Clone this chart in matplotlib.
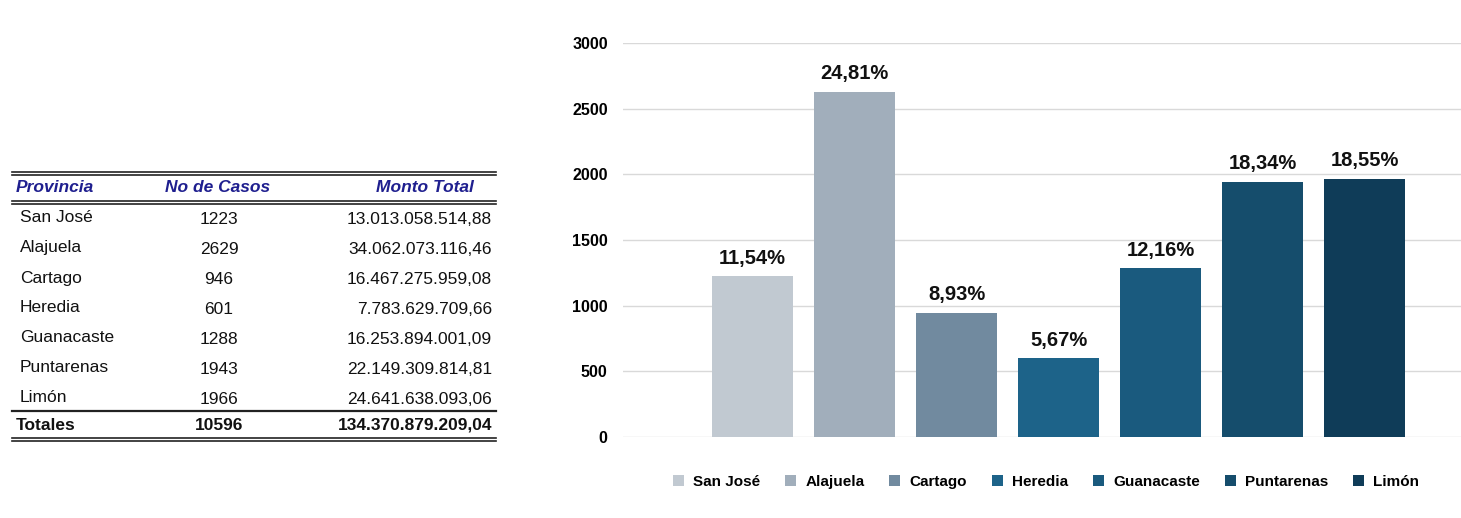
import matplotlib
matplotlib.use("Agg")
import matplotlib.pyplot as plt
from matplotlib.lines import Line2D
from matplotlib.patches import Patch

provincias = ["San José", "Alajuela", "Cartago", "Heredia", "Guanacaste", "Puntarenas", "Limón"]
casos = [1223, 2629, 946, 601, 1288, 1943, 1966]
montos = ["13.013.058.514,88", "34.062.073.116,46", "16.467.275.959,08", "7.783.629.709,66",
          "16.253.894.001,09", "22.149.309.814,81", "24.641.638.093,06"]
porcentajes = ["11,54%", "24,81%", "8,93%", "5,67%", "12,16%", "18,34%", "18,55%"]
total_casos = "10596"
total_monto = "134.370.879.209,04"
colores = ["#c1c9d1", "#a1aebb", "#718a9f", "#1d6389", "#1a5a7e", "#154d6c", "#0f3c58"]
yticks = [0, 500, 1000, 1500, 2000, 2500, 3000]

W, H = 1461, 518
fig = plt.figure(figsize=(W / 100, H / 100), dpi=100)

def fx(px):
    return px / W

def fy(py):
    return 1 - py / H

# ---------------- chart ----------------
ax = fig.add_axes([fx(623), fy(437), fx(1461) - fx(623), fy(43) - fy(437)])
x = list(range(len(provincias)))
ax.bar(x, casos, width=0.79, color=colores, zorder=3)
ax.set_xlim(-1.27, 6.946)
ax.set_ylim(0, 3000)
ax.set_yticks(yticks)
ax.set_yticklabels([str(v) for v in yticks], fontsize=11.5, fontweight="bold",
                   family=["Liberation Sans", "DejaVu Sans"])
ax.tick_params(axis="y", length=0, pad=11)
ax.set_xticks([])
ax.grid(axis="y", color="#d9d9d9", linewidth=1, zorder=0)
for s in ax.spines.values():
    s.set_visible(False)
for xi, v, p in zip(x, casos, porcentajes):
    ax.annotate(p, (xi, v), xytext=(0, 6), textcoords="offset points",
                ha="center", va="bottom", fontsize=14.5, fontweight="bold",
                family=["Liberation Sans", "DejaVu Sans"], color="#111111")

handles = [Patch(facecolor=c, edgecolor="none") for c in colores]
leg = fig.legend(handles, provincias, loc="center", bbox_to_anchor=(fx(1046), fy(482)),
                 ncol=7, frameon=False, handlelength=0.75, handleheight=0.75,
                 handletextpad=0.6, columnspacing=1.6,
                 prop={"family": ["Liberation Sans", "DejaVu Sans"],
                       "weight": "bold", "size": 11})

# ---------------- table ----------------
tfont = ["Liberation Sans", "DejaVu Sans"]
L, R = 12, 496
FS = 12.5

def hline(py, lw=1.3):
    fig.add_artist(Line2D([fx(L), fx(R)], [fy(py), fy(py)], color="#222222", linewidth=lw,
                          transform=fig.transFigure))

for py in (172, 175, 201, 204, 438, 441):
    hline(py, 1.2)
hline(411, 1.6)

hdr_color = "#1f1f8f"
fig.text(fx(16), fy(188), "Provincia", ha="left", va="center", fontsize=FS, fontweight="bold",
         style="italic", color=hdr_color, family=tfont)
fig.text(fx(218), fy(188), "No de Casos", ha="center", va="center", fontsize=FS, fontweight="bold",
         style="italic", color=hdr_color, family=tfont)
fig.text(fx(474), fy(188), "Monto Total", ha="right", va="center", fontsize=FS, fontweight="bold",
         style="italic", color=hdr_color, family=tfont)

for i, (p, c, m) in enumerate(zip(provincias, casos, montos)):
    y = 218 + 30 * i
    fig.text(fx(20), fy(y), p, ha="left", va="center", fontsize=FS, color="#111111", family=tfont)
    fig.text(fx(219), fy(y + 2), str(c), ha="center", va="center", fontsize=FS, color="#111111", family=tfont)
    fig.text(fx(492), fy(y + 2), m, ha="right", va="center", fontsize=FS, color="#111111", family=tfont)

fig.text(fx(16), fy(425), "Totales", ha="left", va="center", fontsize=FS, fontweight="bold",
         color="#111111", family=tfont)
fig.text(fx(219), fy(425), total_casos, ha="center", va="center", fontsize=FS, fontweight="bold",
         color="#111111", family=tfont)
fig.text(fx(492), fy(425), total_monto, ha="right", va="center", fontsize=FS, fontweight="bold",
         color="#111111", family=tfont)

fig.savefig("out.png", dpi=100)
